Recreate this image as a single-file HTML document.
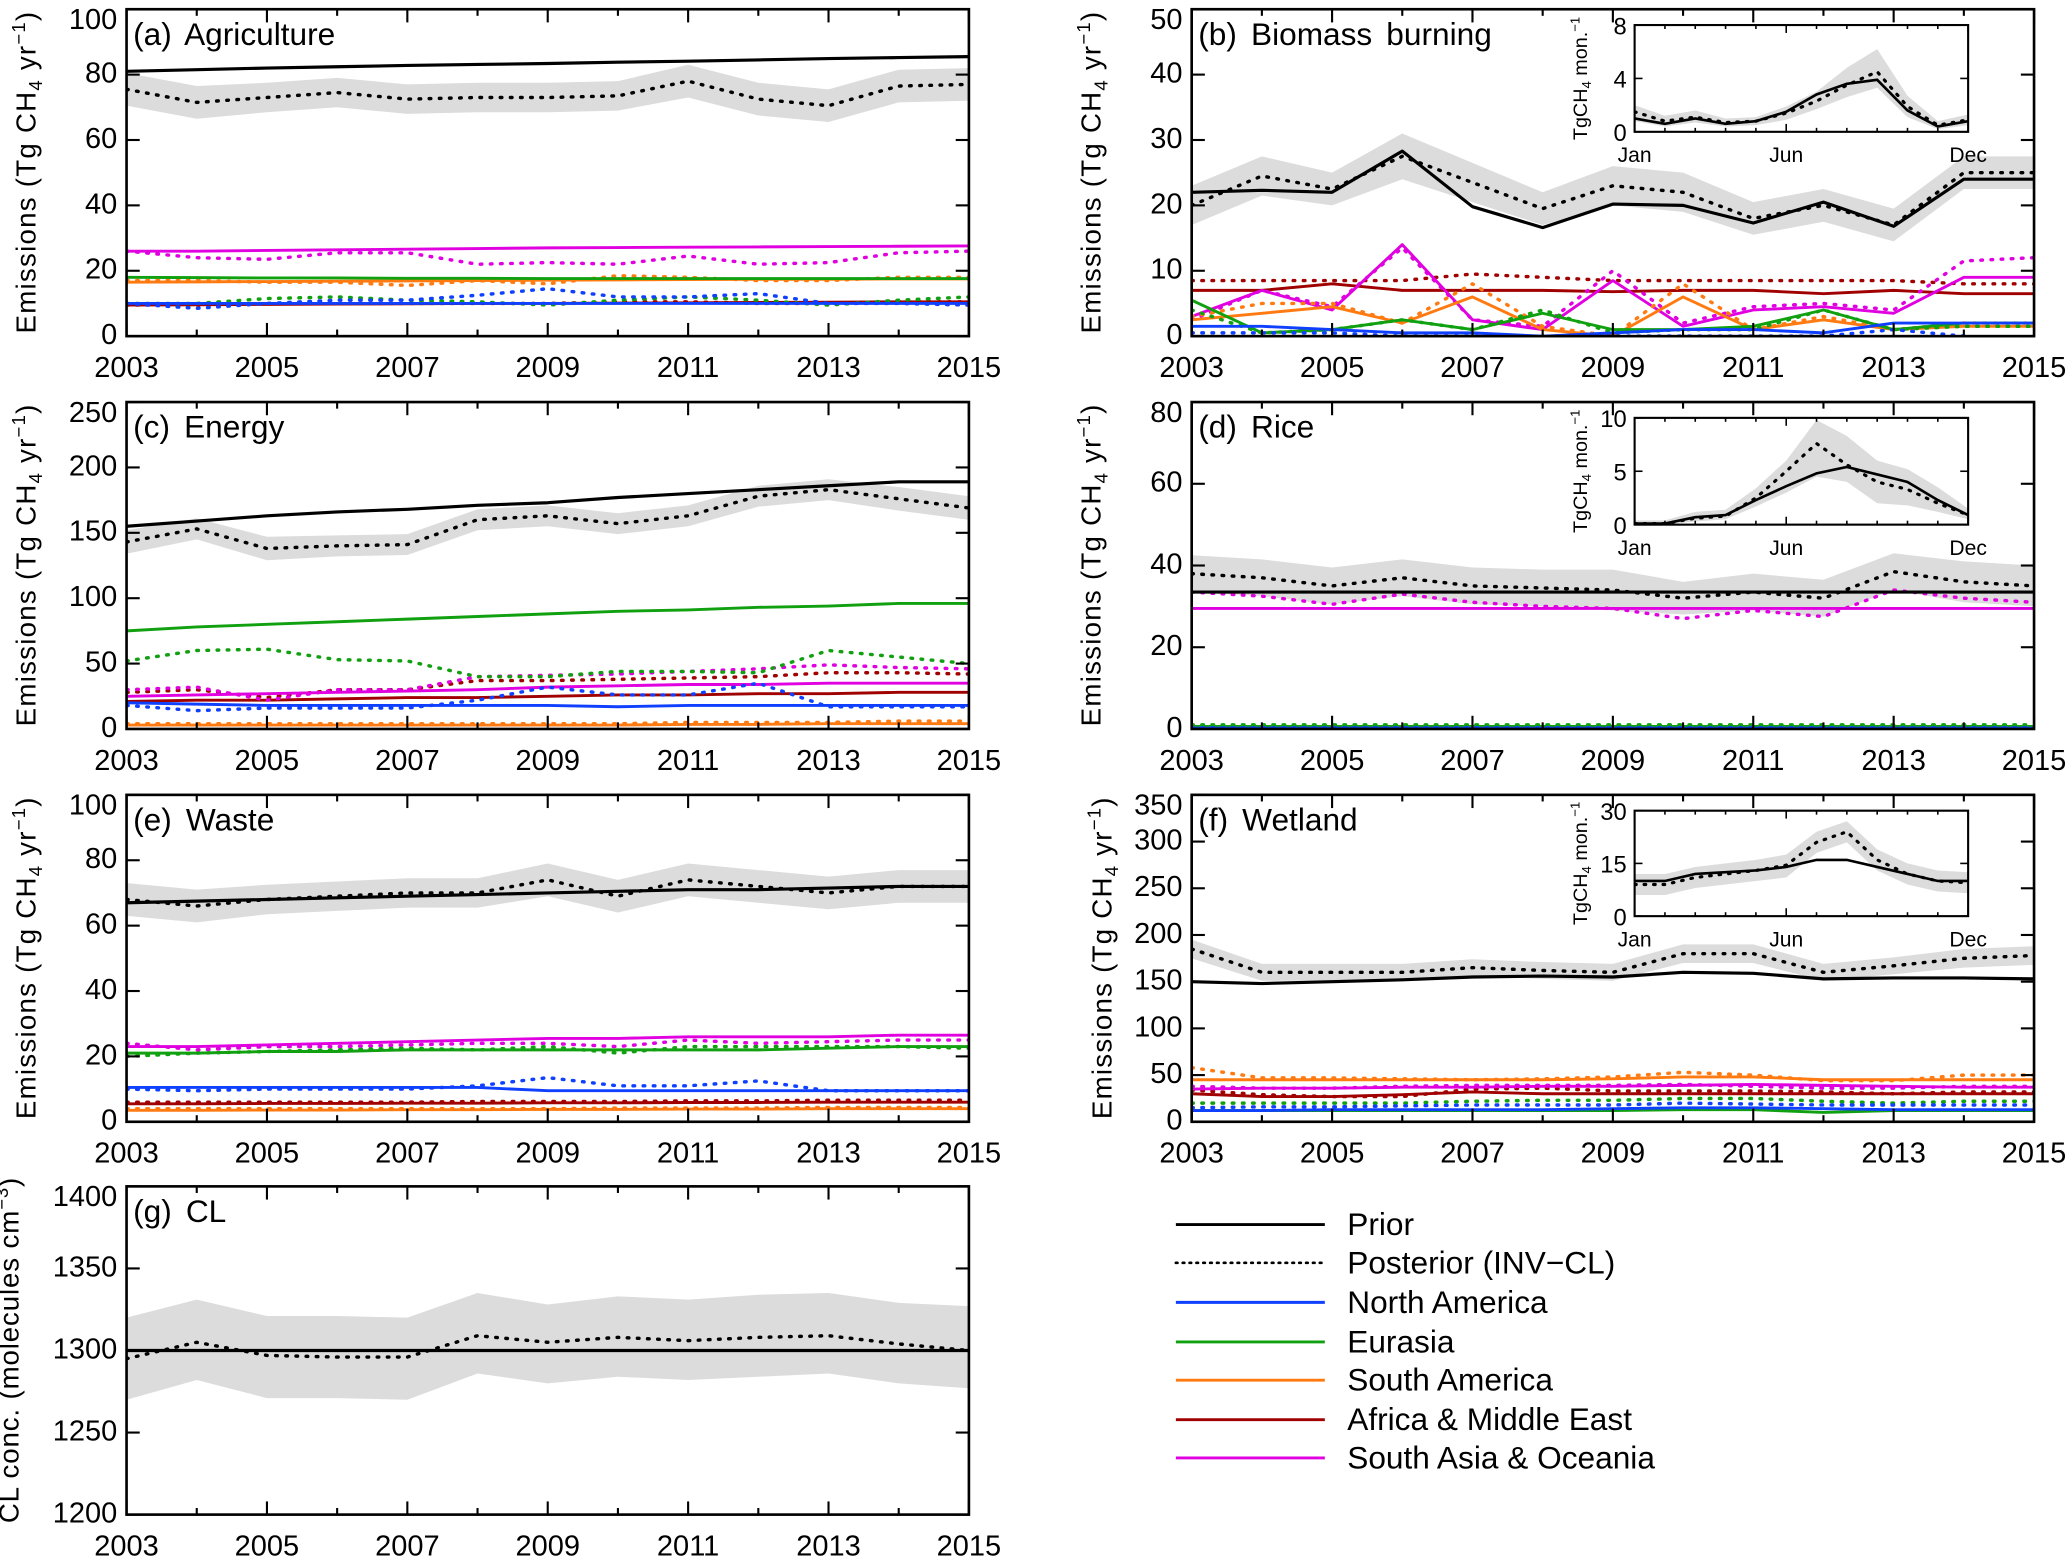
<!DOCTYPE html>
<html><head><meta charset="utf-8"><style>
html,body{margin:0;padding:0;background:#fff;}
svg{display:block;}
text{font-family:"Liberation Sans",sans-serif;fill:#000;}
</style></head>
<body>
<svg id="fig" xmlns="http://www.w3.org/2000/svg" width="2067" height="1556" viewBox="0 0 1568 1180.4" preserveAspectRatio="none">
<g id="legend">
  <g><line x1="892" y1="929" x2="1005" y2="929" stroke="#000" stroke-width="2.2"/><text x="1022" y="937" font-size="24">Prior</text></g>
  <g><line x1="892" y1="958" x2="1005" y2="958" stroke="#000" stroke-width="2" stroke-dasharray="1.2 4" stroke-linecap="round"/><text x="1022" y="966" font-size="24">Posterior (INV−CL)</text></g>
  <g><line x1="892" y1="988" x2="1005" y2="988" stroke="#1040ff" stroke-width="2.2"/><text x="1022" y="996" font-size="24">North America</text></g>
  <g><line x1="892" y1="1018" x2="1005" y2="1018" stroke="#10a010" stroke-width="2.2"/><text x="1022" y="1026" font-size="24">Eurasia</text></g>
  <g><line x1="892" y1="1047" x2="1005" y2="1047" stroke="#ff7a10" stroke-width="2.2"/><text x="1022" y="1055" font-size="24">South America</text></g>
  <g><line x1="892" y1="1077" x2="1005" y2="1077" stroke="#a00000" stroke-width="2.2"/><text x="1022" y="1085" font-size="24">Africa &amp; Middle East</text></g>
  <g><line x1="892" y1="1106" x2="1005" y2="1106" stroke="#e000e0" stroke-width="2.2"/><text x="1022" y="1114" font-size="24">South Asia &amp; Oceania</text></g>
</g>
</svg>
<script>
const years=[2003,2004,2005,2006,2007,2008,2009,2010,2011,2012,2013,2014,2015];
const months=[1,2,3,4,5,6,7,8,9,10,11,12];
// (a) Agriculture
const aPrior=[81,81.5,82,82.4,82.8,83.1,83.4,83.8,84.1,84.5,84.9,85.2,85.5];
const aPost=[75.5,71.5,73,74.5,72.5,73,73,73.5,78,72.5,70.5,76.5,77];
const aUnc=[5,5,4.5,4.5,4.5,4.5,4.5,4.5,5,5,5,5,5];
const aNAPrior=[10,10,10,10,10,10,10,10,10,10,10,10,10];
const aNAPost=[10,8.5,10,11,11,12.5,14.5,12,12,13,10,10,9.5];
const aEUPrior=[18,17.9,17.8,17.8,17.7,17.7,17.6,17.6,17.6,17.6,17.6,17.6,17.6];
const aEUPost=[10,10,11.5,12,11,10.5,9.5,11,12,11,9.5,11,12];
const aSAPrior=[16.5,16.6,16.7,16.8,16.9,17,17.1,17.2,17.3,17.4,17.4,17.5,17.5];
const aSAPost=[17,17,16.5,16.5,15.5,17,16,18.5,18,17,17,18,18];
const aAFPrior=[9.5,9.6,9.7,9.8,9.9,10,10,10.1,10.2,10.3,10.4,10.5,10.5];
const aAFPost=[9.5,9.5,10,10,10,10,10,10.5,10.5,10,10,10.5,10.5];
const aSOPrior=[26,26,26.2,26.4,26.6,26.8,27,27.1,27.2,27.3,27.4,27.5,27.6];
const aSOPost=[26,24,23.5,25.5,25.5,22,22.5,22,24.5,22,22.5,25.5,26];
// (b) Biomass burning
const bPrior=[22,22.3,22,28.3,19.8,16.6,20.2,20,17.3,20.5,16.8,24,24];
const bPost=[20,24.5,22.5,27.5,23.5,19.5,23,22,18,20,17,25,25];
const bUnc=[3,3,2.5,3.5,3,2.5,3,3,2.5,2.5,2.5,2.5,2.5];
const bNAPrior=[1.5,1.5,1,0.5,0.5,0,0.5,1,1,0.5,2,2,2];
const bNAPost=[0.5,0.5,0.5,0,0,-0.5,0,0,0,0,1,0,-1];
const bEUPrior=[5.5,0.5,1,2.5,1,3.5,1,1,1.5,4,1,2,2];
const bEUPost=[4,0.5,1,2.5,1,4,0.5,1,1,4,1,1.5,1.5];
const bSAPrior=[2.5,3.5,4.5,2,6,1,0,6,1,2.5,1,1.5,1.5];
const bSAPost=[3,5,5,2,8,1.5,0,8,1,3,1,2,2];
const bAFPrior=[7,7,8,7,7,7,6.8,7,7,6.5,7,6.5,6.5];
const bAFPost=[8.5,8.5,8.5,8.5,9.5,9,8.5,8.5,8.5,8.5,8.5,8,8];
const bSOPrior=[3,7,4,14,2.5,1,8.5,1.5,4,4.5,3.5,9,9];
const bSOPost=[2.5,7,4.5,13.5,2.5,1.5,10,2,4.5,5,4,11.5,12];
const bInPrior=[1,0.6,1,0.6,0.8,1.5,2.8,3.6,3.9,1.6,0.4,0.8];
const bInPost=[1.5,0.8,1.1,0.7,0.8,1.4,2.3,3.5,4.5,1.9,0.5,0.9];
const bInLo=[0.8,0.4,0.7,0.4,0.5,0.9,1.7,2.6,3.3,1.1,0.2,0.5];
const bInHi=[2,1.2,1.6,1,1.1,1.9,3,4.8,6.2,2.7,0.8,1.3];
// (c) Energy
const cPrior=[155,159,163,166,168,171,173,177,180,183,186,189,189];
const cPost=[143,153,138,140,141,160,163,157,163,178,183,176,169];
const cUnc=[9,8,9,8,8,8,8,8,8,8,8,9,9];
const cNAPrior=[20,19,18,18,18,18,18,17,18,18,18,18,18];
const cNAPost=[18,14,16,16,16,22,32,26,26,35,17,17,17];
const cEUPrior=[75,78,80,82,84,86,88,90,91,93,94,96,96];
const cEUPost=[52,60,61,53,52,40,40,44,44,43,60,55,50];
const cSAPrior=[3,3,3,3,3,3,3,3,3.5,3.5,4,4,4];
const cSAPost=[4,4,4,4,4,4,4,4,5,5,5,6,6];
const cAFPrior=[21,22,22,23,24,24,25,26,26,27,27,28,28];
const cAFPost=[28,30,24,30,30,37,37,38,39,40,43,43,42];
const cSOPrior=[25,26,27,28,29,30,32,33,34,34,35,35,35];
const cSOPost=[30,32,22,30,30,40,41,42,44,46,49,47,46];
// (d) Rice
const dPrior=[33.5,33.5,33.5,33.5,33.5,33.5,33.5,33.5,33.5,33.5,33.5,33.5,33.5];
const dPost=[38,37,35,37,35,34.5,34,32,33.5,32,38.5,36,35];
const dUnc=[4.5,4.5,4.5,4.5,4.5,4.5,5,4,4.5,4.5,4.5,5,5];
const dNAPrior=[0.2,0.2,0.2,0.2,0.2,0.2,0.2,0.2,0.2,0.2,0.2,0.2,0.2];
const dNAPost=[0.3,0.3,0.3,0.3,0.3,0.3,0.3,0.3,0.3,0.3,0.3,0.3,0.3];
const dEUPrior=[0.6,0.6,0.6,0.6,0.6,0.6,0.6,0.6,0.6,0.6,0.6,0.6,0.6];
const dEUPost=[1,1,1,1,1,1,1,1,1,1,1,1,1];
const dSAPrior=[-0.5,-0.5,-0.5,-0.5,-0.5,-0.5,-0.5,-0.5,-0.5,-0.5,-0.5,-0.5,-0.5];
const dSAPost=[-0.5,-0.5,-0.5,-0.5,-0.5,-0.5,-0.5,-0.5,-0.5,-0.5,-0.5,-0.5,-0.5];
const dAFPrior=[-1,-1,-1,-1,-1,-1,-1,-1,-1,-1,-1,-1,-1];
const dAFPost=[-1,-1,-1,-1,-1,-1,-1,-1,-1,-1,-1,-1,-1];
const dSOPrior=[29.5,29.5,29.5,29.5,29.5,29.5,29.5,29.5,29.5,29.5,29.5,29.5,29.5];
const dSOPost=[33.5,32.5,30.5,33,31,30,29.5,27,29,27.5,34,32,31];
const dInPrior=[0.1,0.1,0.7,0.9,2.3,3.6,4.8,5.4,4.7,4.0,2.3,0.9];
const dInPost=[0.1,0.1,0.6,0.8,2.5,5.0,7.6,5.6,4.0,3.3,2.0,0.9];
const dInLo=[0,0,0.3,0.5,1.7,3.0,4.5,4.0,2.0,1.8,1.2,0.5];
const dInHi=[0.4,0.4,1.2,1.4,3.4,6.0,9.8,8.3,6,5.2,3.5,1.5];
// (e) Waste
const ePrior=[67,67.5,68,68.5,69,69.5,70,70.5,71,71,71.5,72,72];
const ePost=[68,66,68,69,70,70,74,69,74,72,70,72,72];
const eUnc=[5,5,4.5,4.5,4.5,4.5,5,5,5,5,5,5,5];
const eNAPrior=[10.5,10.5,10.5,10.5,10.5,10.5,9.5,9.5,9.5,9.5,9.5,9.5,9.5];
const eNAPost=[10,9.5,10,10,10,11,13.5,11,11,12.5,9.5,9.5,9.5];
const eEUPrior=[21,21,21.5,21.5,22,22,22,22,22,22,22.5,23,23];
const eEUPost=[20,21,21.5,22,22.5,22,23,21,23,23,23,23,22.5];
const eSAPrior=[3.5,3.5,3.6,3.6,3.7,3.7,3.8,3.8,3.9,3.9,4,4,4];
const eSAPost=[4,4,4,4,4,4,4,4.2,4.2,4.2,4.4,4.4,4.4];
const eAFPrior=[5.5,5.5,5.6,5.6,5.7,5.7,5.8,5.8,5.9,5.9,6,6,6];
const eAFPost=[6,6,6,6,6,6.2,6.2,6.2,6.4,6.4,6.6,6.6,6.6];
const eSOPrior=[23,23,23.5,24,24.5,25,25.5,25.5,26,26,26,26.5,26.5];
const eSOPost=[24,22,23,23,23.5,24,24,23,25,24,24.5,25,25];
// (f) Wetland
const fPrior=[150,148,150,152,155,156,155,160,159,153,154,154,153];
const fPost=[185,160,160,160,165,162,160,180,180,160,167,175,178];
const fUnc=[10,9,9,9,9,9,9,10,10,9,9,10,10];
const fNAPrior=[12,12,13,13,13,13,14,15,15,14,13,13,13];
const fNAPost=[15,16,16,17,18,18,18,20,19,18,18,18,18];
const fEUPrior=[12,12,12,12,12,12,12,13,13,10,12,12,12];
const fEUPost=[20,20,20,20,22,23,23,25,25,22,20,22,22];
const fSAPrior=[45,45,45,45,45,45,46,48,48,45,45,45,45];
const fSAPost=[58,47,47,46,45,46,48,53,50,44,44,50,50];
const fAFPrior=[30,27,27,29,32,30,30,30,30,30,30,30,30];
const fAFPost=[34,29,27,27,35,36,33,33,33,32,30,32,32];
const fSOPrior=[35,36,36,37,37,38,38,39,40,39,38,37,37];
const fSOPost=[38,36,36,38,39,39,39,40,38,36,36,38,38];
const fInPrior=[10,10,12,12.5,13,14,16,16,14,12,10,10];
const fInPost=[9,9,11,12,13,14.5,21,24,16,12,10,9.5];
const fInLo=[6,6,8,9,10,11,18,21,13,9,7,6.5];
const fInHi=[12,12,14,15,16,17.5,24,27,19,15,13,12.5];
// (g) CL
const gPrior=[1300,1300,1300,1300,1300,1300,1300,1300,1300,1300,1300,1300,1300];
const gPost=[1295,1305,1297,1296,1296,1309,1305,1308,1306,1308,1309,1304,1300];
const gLo=[1270,1282,1271,1271,1270,1286,1280,1284,1282,1284,1286,1280,1277];
const gHi=[1320,1331,1321,1321,1320,1335,1328,1333,1331,1334,1335,1329,1327];

const NS='http://www.w3.org/2000/svg';
const svg=document.getElementById('fig');
const COLS=[[96,735],[904,1543]];
const ROWS=[[7,255],[305,553],[603,851],[900,1149]];
const COLORS={na:'#1040ff',eu:'#10a010',sa:'#ff7a10',af:'#a00000',so:'#e000e0'};
const REGNAME={na:'north-america',eu:'eurasia',sa:'south-america',af:'africa-middle-east',so:'south-asia-oceania'};
function el(tag,attrs,parent){const e=document.createElementNS(NS,tag);for(const k in attrs)e.setAttribute(k,attrs[k]);if(parent)parent.appendChild(e);return e;}
function subLo(arr,u){return arr.map((v,i)=>v-u[i]);}
function subHi(arr,u){return arr.map((v,i)=>v+u[i]);}
function makeScale(d0,d1,r0,r1){return v=>r0+(v-d0)/(d1-d0)*(r1-r0);}
function pathOf(xs,ys,sx,sy){return xs.map((x,i)=>(i?'L':'M')+sx(x).toFixed(2)+','+sy(ys[i]).toFixed(2)).join(' ');}
function bandOf(xs,lo,hi,sx,sy){let d=xs.map((x,i)=>(i?'L':'M')+sx(x).toFixed(2)+','+sy(hi[i]).toFixed(2)).join(' ');for(let i=xs.length-1;i>=0;i--)d+=' L'+sx(xs[i]).toFixed(2)+','+sy(lo[i]).toFixed(2);return d+' Z';}

let clipN=0;
function drawSeries(g,xs,ys,sx,sy,color,dotted,name,w){
  const p=el('path',{d:pathOf(xs,ys,sx,sy),fill:'none',stroke:color,'stroke-width':w||2.2,'stroke-linejoin':'round'},g);
  if(dotted){p.setAttribute('stroke-dasharray','1.2 6.5');p.setAttribute('stroke-linecap','round');p.setAttribute('stroke-width',w?w+0.4:2.6);}
  
  
  return p;
}

function panel(cfg){
  const [x0,x1]=COLS[cfg.col],[y0,y1]=ROWS[cfg.row];
  const g=el('g',{},svg);
  
  
  const sx=makeScale(2003,2015,x0,x1), sy=makeScale(cfg.ymin,cfg.ymax,y1,y0);
  const cid='clip'+(clipN++);
  const cp=el('clipPath',{id:cid},g);el('rect',{x:x0,y:y0,width:x1-x0,height:y1-y0},cp);
  const plot=el('g',{'clip-path':'url(#'+cid+')'},g);
  
  
  const band=el('path',{d:bandOf(years,cfg.lo,cfg.hi,sx,sy),fill:'#dcdcdc',stroke:'none'},plot);
  
  
  if(cfg.reg){for(const r of ['af','so','sa','eu','na']){if(!cfg.reg[r])continue;
    drawSeries(plot,years,cfg.reg[r][0],sx,sy,COLORS[r],false,REGNAME[r]+'-prior-line');
    drawSeries(plot,years,cfg.reg[r][1],sx,sy,COLORS[r],true,REGNAME[r]+'-posterior-line');}}
  drawSeries(plot,years,cfg.prior,sx,sy,'#000',false,'prior-line',2.4);
  drawSeries(plot,years,cfg.post,sx,sy,'#000',true,'posterior-line');
  const fr=el('rect',{x:x0,y:y0,width:x1-x0,height:y1-y0,fill:'none',stroke:'#000','stroke-width':2},g);
  
  
  const xa=el('g',{},g);
  
  
  for(let yr=2003;yr<=2015;yr++){
    const maj=(yr-2003)%2===0, L=maj?10:5, X=sx(yr);
    el('line',{x1:X,y1:y1,x2:X,y2:y1-L,stroke:'#000','stroke-width':1.6},xa);
    el('line',{x1:X,y1:y0,x2:X,y2:y0+L,stroke:'#000','stroke-width':1.6},xa);
    if(maj){const t=el('text',{x:X,y:y1+31,'font-size':22,'text-anchor':'middle'},xa);t.textContent=yr;
      
      }
  }
  const ya=el('g',{},g);
  
  
  for(let v=cfg.ymin;v<=cfg.ymax+1e-9;v+=cfg.step){
    const Y=sy(v);
    el('line',{x1:x0,y1:Y,x2:x0+10,y2:Y,stroke:'#000','stroke-width':1.6},ya);
    el('line',{x1:x1,y1:Y,x2:x1-10,y2:Y,stroke:'#000','stroke-width':1.6},ya);
    const by=Math.max(Y+6,y0+15);
    const t=el('text',{x:x0-7,y:by,'font-size':22,'text-anchor':'end'},ya);t.textContent=v;
    
    
  }
  const tt=el('text',{x:x0+5,y:y0+27,'font-size':24,'word-spacing':4},g);tt.textContent=cfg.title;
  
  
  const cy=(y0+y1)/2, lx=cfg.labx!==undefined?cfg.labx:x0-69;
  const yl=el('text',{x:0,y:0,'font-size':21,'text-anchor':'middle',transform:'translate('+lx+','+cy+') rotate(-90)',textLength:cfg.lablen||244,lengthAdjust:'spacing'},g);
  
  
  yl.innerHTML=cfg.ylab;
  if(cfg.inset)inset(g,cfg.inset,cfg.key);
}

function inset(parent,c,key){
  const x0=1240,x1=1493,y0=c.y0,y1=c.y1;
  const g=el('g',{},parent);
  
  
  const sx=makeScale(1,12,x0,x1), sy=makeScale(0,c.ymax,y1,y0);
  el('rect',{x:x0,y:y0,width:x1-x0,height:y1-y0,fill:'#fff',stroke:'none'},g);
  const cid='clip'+(clipN++);
  const cp=el('clipPath',{id:cid},g);el('rect',{x:x0,y:y0,width:x1-x0,height:y1-y0},cp);
  const plot=el('g',{'clip-path':'url(#'+cid+')'},g);
  const band=el('path',{d:bandOf(months,c.lo,c.hi,sx,sy),fill:'#dcdcdc'},plot);
  
  
  const sp=el('path',{d:pathOf(months,c.prior,sx,sy),fill:'none',stroke:'#000','stroke-width':2},plot);
  
  
  const dp=el('path',{d:pathOf(months,c.post,sx,sy),fill:'none',stroke:'#000','stroke-width':2.4,'stroke-dasharray':'1.2 6','stroke-linecap':'round'},plot);
  
  
  el('rect',{x:x0,y:y0,width:x1-x0,height:y1-y0,fill:'none',stroke:'#000','stroke-width':1.6},g);
  for(let m=1;m<=12;m++){const X=sx(m),L=(m===1||m===6||m===12)?6:3;
    el('line',{x1:X,y1:y1,x2:X,y2:y1-L,stroke:'#000','stroke-width':1.2},g);
    el('line',{x1:X,y1:y0,x2:X,y2:y0+L,stroke:'#000','stroke-width':1.2},g);}
  [['Jan',1],['Jun',6],['Dec',12]].forEach(([n,m])=>{const t=el('text',{x:sx(m),y:y1+23,'font-size':16,'text-anchor':'middle'},g);t.textContent=n;
    
    });
  for(let v=0;v<=c.ymax+1e-9;v+=c.step){const Y=sy(v);
    el('line',{x1:x0,y1:Y,x2:x0+6,y2:Y,stroke:'#000','stroke-width':1.2},g);
    el('line',{x1:x1,y1:Y,x2:x1-6,y2:Y,stroke:'#000','stroke-width':1.2},g);
    const t=el('text',{x:x0-6,y:Y+7,'font-size':18,'text-anchor':'end'},g);t.textContent=v;
    
    }
  const yl=el('text',{x:0,y:0,'font-size':15,'text-anchor':'middle',transform:'translate('+(x0-36)+','+((y0+y1)/2)+') rotate(-90)'},g);
  yl.innerHTML='TgCH<tspan font-size="10" dy="3">4</tspan><tspan dy="-3"> mon.</tspan><tspan font-size="10" dy="-6">−1</tspan>';
  
  
}

const EMLAB='Emissions (Tg CH<tspan font-size="14" dy="5">4</tspan><tspan dy="-5"> yr</tspan><tspan font-size="14" dy="-8">−1</tspan><tspan dy="8">)</tspan>';
panel({key:'agriculture',col:0,row:0,ymin:0,ymax:100,step:20,title:'(a) Agriculture',ylab:EMLAB,prior:aPrior,post:aPost,lo:subLo(aPost,aUnc),hi:subHi(aPost,aUnc),
  reg:{na:[aNAPrior,aNAPost],eu:[aEUPrior,aEUPost],sa:[aSAPrior,aSAPost],af:[aAFPrior,aAFPost],so:[aSOPrior,aSOPost]}});
panel({key:'biomass-burning',col:1,row:0,ymin:0,ymax:50,step:10,title:'(b) Biomass burning',ylab:EMLAB,prior:bPrior,post:bPost,lo:subLo(bPost,bUnc),hi:subHi(bPost,bUnc),
  reg:{na:[bNAPrior,bNAPost],eu:[bEUPrior,bEUPost],sa:[bSAPrior,bSAPost],af:[bAFPrior,bAFPost],so:[bSOPrior,bSOPost]},
  inset:{y0:19,y1:100,ymax:8,step:4,prior:bInPrior,post:bInPost,lo:bInLo,hi:bInHi}});
panel({key:'energy',col:0,row:1,ymin:0,ymax:250,step:50,title:'(c) Energy',ylab:EMLAB,prior:cPrior,post:cPost,lo:subLo(cPost,cUnc),hi:subHi(cPost,cUnc),
  reg:{na:[cNAPrior,cNAPost],eu:[cEUPrior,cEUPost],sa:[cSAPrior,cSAPost],af:[cAFPrior,cAFPost],so:[cSOPrior,cSOPost]}});
panel({key:'rice',col:1,row:1,ymin:0,ymax:80,step:20,title:'(d) Rice',ylab:EMLAB,prior:dPrior,post:dPost,lo:subLo(dPost,dUnc),hi:subHi(dPost,dUnc),
  reg:{na:[dNAPrior,dNAPost],eu:[dEUPrior,dEUPost],sa:[dSAPrior,dSAPost],af:[dAFPrior,dAFPost],so:[dSOPrior,dSOPost]},
  inset:{y0:317,y1:398,ymax:10,step:5,prior:dInPrior,post:dInPost,lo:dInLo,hi:dInHi}});
panel({key:'waste',col:0,row:2,ymin:0,ymax:100,step:20,title:'(e) Waste',ylab:EMLAB,prior:ePrior,post:ePost,lo:subLo(ePost,eUnc),hi:subHi(ePost,eUnc),
  reg:{na:[eNAPrior,eNAPost],eu:[eEUPrior,eEUPost],sa:[eSAPrior,eSAPost],af:[eAFPrior,eAFPost],so:[eSOPrior,eSOPost]}});
panel({key:'wetland',col:1,row:2,ymin:0,ymax:350,step:50,title:'(f) Wetland',ylab:EMLAB,prior:fPrior,post:fPost,lo:subLo(fPost,fUnc),hi:subHi(fPost,fUnc),labx:843,
  reg:{na:[fNAPrior,fNAPost],eu:[fEUPrior,fEUPost],sa:[fSAPrior,fSAPost],af:[fAFPrior,fAFPost],so:[fSOPrior,fSOPost]},
  inset:{y0:615,y1:695,ymax:30,step:15,prior:fInPrior,post:fInPost,lo:fInLo,hi:fInHi}});
panel({key:'cl',col:0,row:3,ymin:1200,ymax:1400,step:50,title:'(g) CL',prior:gPrior,post:gPost,lo:gLo,hi:gHi,labx:14,lablen:262,
  ylab:'CL conc. (molecules cm<tspan font-size="14" dy="-8">−3</tspan><tspan dy="8">)</tspan>'});
svg.appendChild(document.getElementById('legend'));
</script>
</body></html>
